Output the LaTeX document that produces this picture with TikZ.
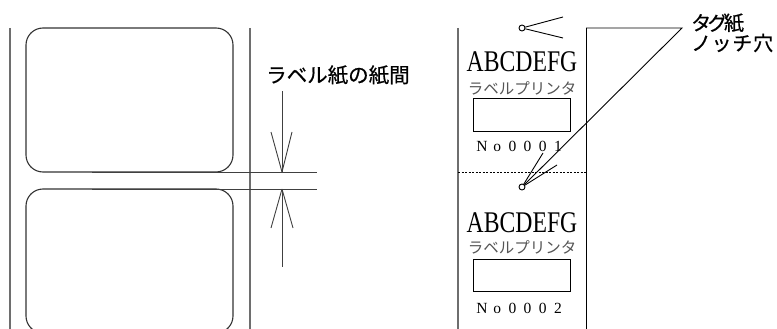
\documentclass[tikz,border=0pt]{standalone}
\usepackage{fontspec}
\setmainfont{Liberation Serif}
\newfontfamily\jpfont{Noto Sans CJK JP}
\newfontfamily\jpheavy[FakeBold=0.6]{Noto Sans CJK JP}
\usetikzlibrary{calc}
\definecolor{framegray}{RGB}{110,110,110}
\definecolor{printgray}{RGB}{85,85,85}
\tikzstyle{frameline}=[draw=framegray,line width=1.6pt]
\tikzstyle{edgeline}=[draw=black!80,line width=1.1pt]
\tikzstyle{thinline}=[draw=black,line width=0.9pt]
\tikzstyle{dimline}=[draw=black!75,line width=0.9pt]
\tikzstyle{callout}=[inner sep=0pt,anchor=west]
\tikzstyle{brandtext}=[font=\fontsize{30}{30}\selectfont,xscale=0.79,inner sep=0pt,anchor=base]
\tikzstyle{kanatext}=[font=\jpfont\fontsize{15.5}{15.5}\selectfont,text=printgray,inner sep=0pt]
\tikzstyle{numtext}=[font=\fontsize{15.5}{15.5}\selectfont,inner sep=0pt,anchor=base]
\tikzstyle{hole}=[circle,draw=black,line width=0.9pt,fill=white,inner sep=0pt,minimum size=6pt]
\newcommand{\fw}[1]{\makebox[15.2pt]{#1}}

\begin{document}
\begin{tikzpicture}[x=1pt,y=-1pt]
  \useasboundingbox (0,0) rectangle (777,329);
  \clip (0,0) rectangle (777,329);

  % label paper
  \draw[frameline] (10,28) -- (10,329);
  \draw[frameline] (250,28) -- (250,329);
  \draw[edgeline,rounded corners=17pt] (26,28) rectangle (233,172);
  \draw[edgeline,rounded corners=17pt] (26,189) rectangle (233,333);
  \draw[dimline] (92,172) -- (317,172);
  \draw[dimline] (92,189) -- (317,189);

  \node[callout] (gaplabel) at (266,75) {\jpheavy\fontsize{20.5}{20.5}\selectfont ラベル紙の紙間};
  \coordinate (gaptop) at (282,172);
  \coordinate (gapbot) at (282,189);
  \draw[dimline] (gaptop) -- ++(0,-81);
  \draw[dimline] (gaptop) -- ++(-11,-40);
  \draw[dimline] (gaptop) -- ++(10,-40);
  \draw[dimline] (gapbot) -- ++(0,78);
  \draw[dimline] (gapbot) -- ++(-11,39);
  \draw[dimline] (gapbot) -- ++(11,39);

  % tag paper
  \draw[frameline,line width=1.3pt] (458,28) -- (458,329);
  \draw[thinline] (586,329) -- (586,28);
  \draw[thinline,dash pattern=on 2pt off 1.5pt] (458,172) -- (586,172);

  \node[brandtext] (brand1) at (522,72) {ABCDEFG};
  \node[kanatext] (kana1) at (522,88) {ラベルプリンタ};
  \draw[thinline] (473,98) rectangle (570,131);
  \node[numtext] (num1) at (520,151) {\fw{N}\fw{o}\fw{0}\fw{0}\fw{0}\fw{1}};

  \node[brandtext] (brand2) at (522,232) {ABCDEFG};
  \node[kanatext] (kana2) at (522,247) {ラベルプリンタ};
  \draw[thinline] (473,259) rectangle (570,291);
  \node[numtext] (num2) at (520,313) {\fw{N}\fw{o}\fw{0}\fw{0}\fw{0}\fw{2}};

  % notch holes and callouts
  \node[callout] (taglabel) at (691,23) {\jpheavy\fontsize{20}{20}\selectfont\addfontfeature{LetterSpace=-18}タグ紙};
  \node[callout] (notchlabel) at (691,43) {\jpheavy\fontsize{20}{20}\selectfont\addfontfeature{LetterSpace=4}ノッチ穴};
  \coordinate (leader) at (682,28);
  \coordinate (tagedge) at (586,28);
  \node[hole] (notch1) at (522,28) {};
  \node[hole] (notch2) at (522,187) {};
  \draw[thinline] (tagedge) -- (leader) -- (notch2);
  \draw[thinline] (notch1) -- ++(41,-11);
  \draw[thinline] (notch1) -- ++(41,10);
  \draw[thinline] (notch2) -- ++(21,-34);
  \draw[thinline] (notch2) -- ++(35,-22);
\end{tikzpicture}
\end{document}
